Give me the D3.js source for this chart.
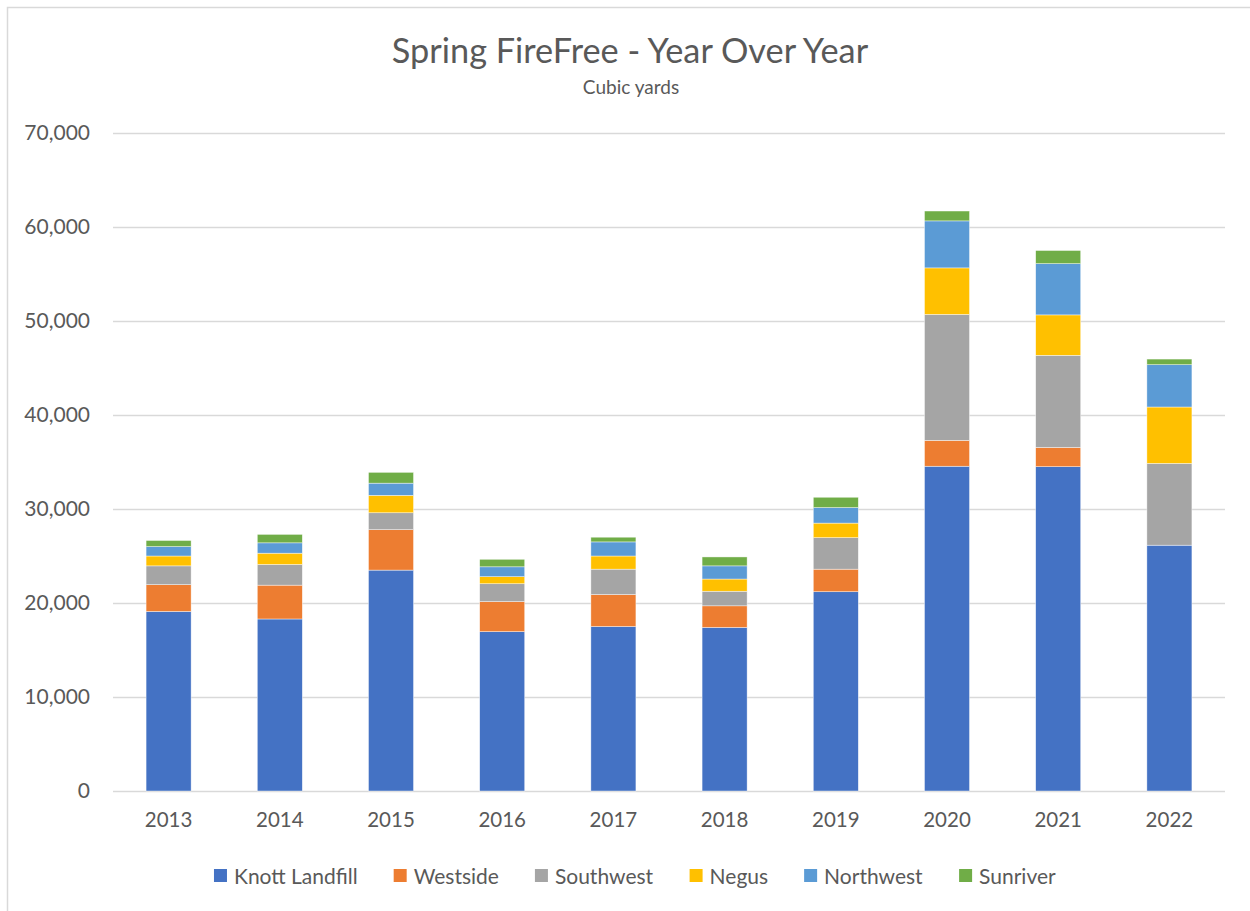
<!DOCTYPE html>
<html>
<head>
<meta charset="utf-8">
<script src="https://cdn.jsdelivr.net/npm/d3@7"></script>
<style>
  body { margin: 0; background: #fff; }
  text { font-family: Lato, "Open Sans", sans-serif; fill: #595959; }
</style>
</head>
<body>
<svg id="chart" width="1250" height="911"></svg>
<script>
// data (cubic yards)
const years = ["2013", "2014", "2015", "2016", "2017", "2018", "2019", "2020", "2021", "2022"]
const sites = ["Knott Landfill", "Westside", "Southwest", "Negus", "Northwest", "Sunriver"]
const knott     = [19100, 18300, 23500, 16950, 17500, 17400, 21200, 34550, 34500, 26150]
const westside  = [ 2850,  3600,  4300,  3200,  3400,  2300,  2400,  2750,  2050,     0]
const southwest = [ 2000,  2200,  1800,  1900,  2700,  1550,  3350, 13400,  9800,  8700]
const negus     = [ 1050,  1200,  1850,   750,  1400,  1300,  1550,  4950,  4300,  6000]
const northwest = [ 1000,  1100,  1300,  1050,  1500,  1400,  1650,  5000,  5450,  4500]
const sunriver  = [  650,   900,  1150,   800,   500,   950,  1100,  1050,  1400,   600]
const yTicks = [0, 10000, 20000, 30000, 40000, 50000, 60000, 70000]
const colors = ["#4472c4", "#ed7d31", "#a5a5a5", "#ffc000", "#5b9bd5", "#70ad47"]

const series = [knott, westside, southwest, negus, northwest, sunriver]
const rows = years.map((y, i) => {
  const r = { year: y }
  sites.forEach((s, j) => r[s] = series[j][i])
  return r
})

const svg = d3.select('#chart')
const W = 1250, H = 911
const plot = { left: 113, right: 1225, top: 133, bottom: 791 }

// chart frame
svg.append('rect')
  .attr('x', 7.5).attr('y', 7.5)
  .attr('width', W + 20).attr('height', H + 20)
  .attr('fill', '#fff').attr('stroke', '#d9d9d9').attr('stroke-width', 1.5)

const x = d3.scaleBand()
  .domain(years)
  .range([plot.left, plot.right])
  .paddingInner(0.595).paddingOuter(0.2975)

const y = d3.scaleLinear()
  .domain([0, 70000])
  .range([plot.bottom, plot.top])

// grid lines
svg.append('g')
  .selectAll('line')
  .data(yTicks)
  .join('line')
  .attr('x1', plot.left).attr('x2', plot.right)
  .attr('y1', d => Math.round(y(d)) + 0.5).attr('y2', d => Math.round(y(d)) + 0.5)
  .attr('stroke', '#d9d9d9').attr('stroke-width', 1.3)

// y axis labels
const yAxis = svg.append('g')
  .attr('transform', `translate(${plot.left - 20}, 0)`)
  .call(d3.axisLeft(y).tickValues(yTicks).tickSize(0).tickFormat(d3.format(',')))
yAxis.select('.domain').remove()
yAxis.selectAll('text')
  .style('font-size', '21px').style('fill', '#595959')
  .style('font-family', 'Lato, sans-serif')

// x axis labels
const xAxis = svg.append('g')
  .attr('transform', `translate(0, ${plot.bottom + 18})`)
  .call(d3.axisBottom(x).tickSize(0))
xAxis.select('.domain').remove()
xAxis.selectAll('text')
  .style('font-size', '20.5px').style('fill', '#595959')
  .style('font-family', 'Lato, sans-serif')

// stacked bars
const stacked = d3.stack().keys(sites)(rows)
svg.append('g')
  .selectAll('g')
  .data(stacked)
  .join('g')
  .attr('fill', (d, i) => colors[i])
  .selectAll('rect')
  .data(d => d)
  .join('rect')
  .attr('x', d => x(d.data.year))
  .attr('width', x.bandwidth())
  .attr('y', d => y(d[1]))
  .attr('height', d => y(d[0]) - y(d[1]))
  .attr('stroke', '#fff').attr('stroke-width', 0.6).attr('stroke-opacity', 0.7)

// title
svg.append('text')
  .attr('x', 630).attr('y', 63)
  .attr('text-anchor', 'middle')
  .style('font-size', '34.3px')
  .text('Spring FireFree - Year Over Year')

svg.append('text')
  .attr('x', 631).attr('y', 94)
  .attr('text-anchor', 'middle')
  .style('font-size', '19px')
  .text('Cubic yards')

// legend
const legend = svg.append('g')
const items = legend.selectAll('g')
  .data(sites)
  .join('g')
items.append('rect')
  .attr('width', 13).attr('height', 13)
  .attr('y', 869)
  .attr('fill', (d, i) => colors[i])
items.append('text')
  .attr('x', 20).attr('y', 884)
  .style('font-size', '21px')
  .text(d => d)

let offset = 0
const gap = 36
items.each(function () {
  const w = this.getBBox().width
  d3.select(this).attr('data-x', offset)
  offset += w + gap
})
const total = offset - gap
const startX = 635 - total / 2
items.attr('transform', function () {
  return `translate(${startX + +this.getAttribute('data-x')}, 0)`
})
</script>
</body>
</html>
